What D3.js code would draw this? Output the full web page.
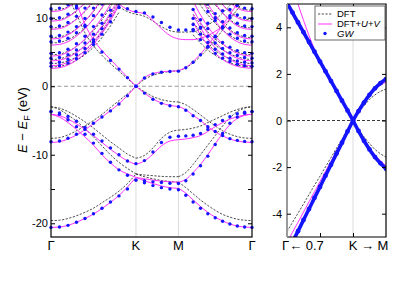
<!DOCTYPE html>
<html>
<head>
<meta charset="utf-8">
<script src="https://cdn.jsdelivr.net/npm/d3@7"></script>
<style>
  body { margin: 0; background: #fff; }
  text { font-family: "Liberation Sans", Arial, sans-serif; }
</style>
</head>
<body>
<script>
// ---- data: path Γ-K-M-Γ (ΓK = 1) ----
var kGrid = [0, 0.1, 0.2, 0.3, 0.4, 0.5, 0.6, 0.7, 0.8, 0.9, 1.0, 1.1, 1.2, 1.3, 1.4, 1.5,
             1.587, 1.673, 1.76, 1.846, 1.933, 2.02, 2.106, 2.193, 2.279, 2.366];
var kTicks = [0, 1.0, 1.5, 2.366];
var kLabels = ["Γ", "K", "M", "Γ"];

var gwSigma1  = [-20.6, -20.55, -20.3, -19.85, -19.3, -18.6, -17.8, -16.9, -16.0, -15.0, -13.7, -14.1, -14.5, -14.8, -15.0, -15.1, -15.9, -16.9, -17.8, -18.6, -19.2, -19.7, -20.1, -20.4, -20.55, -20.6];
var uvSigma1  = [-20.6, -20.55, -20.3, -19.85, -19.3, -18.65, -17.85, -16.95, -15.95, -14.7, -13.3, -13.8, -14.2, -14.55, -14.8, -14.9, -15.6, -16.6, -17.55, -18.4, -19.1, -19.65, -20.1, -20.4, -20.55, -20.6];
var dftSigma1 = [-19.6, -19.55, -19.3, -18.9, -18.4, -17.8, -17.0, -16.2, -15.3, -14.2, -12.8, -13.2, -13.5, -13.75, -13.9, -14.0, -14.8, -15.7, -16.6, -17.4, -18.1, -18.7, -19.1, -19.4, -19.55, -19.6];

var gwSigma2  = [-3.7, -4.1, -4.9, -5.9, -7.0, -8.3, -9.8, -11.1, -12.2, -13.0, -13.7, -13.8, -13.95, -14.05, -14.15, -14.2, -13.8, -12.8, -11.6, -10.2, -8.5, -6.9, -5.4, -4.5, -3.95, -3.7];
var uvSigma2  = [-4.1, -4.5, -5.3, -6.3, -7.4, -8.6, -10.0, -11.2, -12.2, -12.8, -13.3, -13.5, -13.7, -13.85, -13.95, -14.0, -13.6, -12.6, -11.4, -10.0, -8.4, -6.9, -5.6, -4.7, -4.25, -4.1];
var dftSigma2 = [-3.0, -3.4, -4.2, -5.1, -6.2, -7.4, -8.7, -10.0, -11.1, -12.0, -12.8, -12.95, -13.05, -13.15, -13.2, -13.2, -12.6, -11.4, -10.0, -8.6, -7.2, -5.8, -4.6, -3.7, -3.2, -3.0];

var gwSigma3  = [-3.7, -3.9, -4.4, -5.1, -6.0, -7.0, -8.0, -9.0, -10.0, -10.9, -11.3, -10.85, -9.6, -8.2, -7.45, -7.3, -7.25, -7.15, -6.9, -6.3, -5.6, -5.0, -4.45, -4.0, -3.8, -3.7];
var uvSigma3  = [-4.1, -4.3, -4.8, -5.5, -6.3, -7.2, -8.2, -9.2, -10.1, -10.9, -11.4, -10.9, -9.9, -8.7, -8.0, -7.8, -7.7, -7.5, -7.2, -6.6, -5.9, -5.3, -4.8, -4.45, -4.2, -4.1];
var dftSigma3 = [-3.0, -3.2, -3.7, -4.4, -5.2, -6.1, -7.1, -8.1, -9.0, -9.9, -10.5, -10.1, -9.0, -7.6, -6.7, -6.4, -6.3, -6.1, -5.8, -5.3, -4.8, -4.3, -3.8, -3.4, -3.1, -3.0];

var gwPi  = [-8.1, -8.0, -7.6, -7.0, -6.3, -5.4, -4.5, -3.6, -2.6, -1.4, 0, -1.0, -1.9, -2.5, -2.85, -3.0, -3.5, -4.3, -5.0, -5.9, -6.6, -7.2, -7.65, -7.9, -8.05, -8.1];
var uvPi  = [-8.2, -8.1, -7.7, -7.1, -6.35, -5.45, -4.5, -3.55, -2.55, -1.35, 0, -1.0, -1.85, -2.45, -2.8, -2.95, -3.45, -4.25, -5.0, -5.9, -6.65, -7.25, -7.7, -8.0, -8.15, -8.2];
var dftPi = [-7.6, -7.5, -7.1, -6.5, -5.8, -5.0, -4.1, -3.1, -2.1, -1.1, 0, -0.8, -1.5, -1.95, -2.2, -2.3, -2.7, -3.4, -4.2, -5.0, -5.8, -6.5, -7.0, -7.35, -7.55, -7.6];

var gwPiStar  = [14.5, 14.3, 13.5, 11.7, 8.7, 6.5, 5.0, 3.75, 2.5, 1.25, 0, 1.2, 1.8, 2.05, 2.15, 2.2, 2.7, 3.5, 4.6, 5.8, 7.2, 8.7, 10.3, 11.8, 13.2, 14.5];
var uvPiStar  = [14.8, 14.6, 13.8, 12.0, 9.0, 6.8, 5.2, 3.9, 2.6, 1.3, 0, 1.25, 1.85, 2.1, 2.2, 2.25, 2.75, 3.6, 4.7, 6.0, 7.4, 8.9, 10.5, 12.0, 13.5, 14.8];
var dftPiStar = [13.8, 13.6, 12.8, 10.5, 7.8, 5.9, 4.5, 3.3, 2.2, 1.1, 0, 1.0, 1.6, 1.95, 2.15, 2.25, 2.7, 3.4, 4.4, 5.5, 6.8, 8.2, 9.7, 11.2, 12.6, 13.8];

// upper band around K and M
var kUpper   = [0.7, 0.8, 0.9, 1.0, 1.1, 1.2, 1.3, 1.4, 1.5, 1.587, 1.673, 1.76, 1.846, 1.933, 2.02, 2.106];
var gwUpper  = [13.0, 12.0, 11.3, 10.9, 10.7, 10.1, 9.3, 8.6, 8.2, 8.2, 8.3, 8.6, 9.2, 10.0, 11.0, 12.2];
var uvUpper  = [13.2, 12.0, 11.2, 10.8, 10.6, 9.6, 8.4, 7.4, 6.9, 6.8, 6.8, 7.0, 7.4, 8.0, 8.8, 9.8];
var dftUpper = [12.6, 11.6, 10.9, 10.5, 10.2, 9.5, 8.7, 8.1, 7.9, 7.9, 8.0, 8.3, 8.9, 9.7, 10.7, 11.8];

// free-electron-like bands near Γ, Γ-K side
var kNearL = [0, 0.1, 0.2, 0.3, 0.4, 0.5, 0.6, 0.7, 0.8];
var gwNearL = [
  [2.9, 3.0, 3.4, 4.0, 4.9, 6.1, 7.6, 9.4, 11.5],
  [3.4, 3.5, 3.9, 4.6, 5.5, 6.8, 8.4, 10.3, 12.5],
  [4.1, 4.2, 4.6, 5.3, 6.3, 7.6, 9.2, 11.1, 13.3],
  [4.8, 4.9, 5.4, 6.2, 7.3, 8.7, 10.4, 12.4, 14.6],
  [6.5, 6.6, 7.0, 7.8, 8.9, 10.3, 12.0, 14.0, 16.2],
  [7.3, 7.4, 7.9, 8.7, 9.9, 11.4, 13.2, 15.2, 17.4],
  [8.7, 8.8, 9.3, 10.2, 11.4, 12.9, 14.7, 16.8, 19],
  [9.9, 10.0, 10.5, 11.4, 12.6, 14.1, 15.9, 18, 20],
  [11.3, 11.4, 11.9, 12.8, 14, 15.5, 17.3, 19.4, 21.6]
];
var uvNearL = [
  [2.6, 2.7, 3.1, 3.8, 4.8, 6.1, 7.7, 9.6, 11.8],
  [3.0, 3.1, 3.5, 4.2, 5.2, 6.5, 8.1, 10.0, 12.2],
  [3.7, 3.8, 4.2, 4.9, 5.9, 7.2, 8.8, 10.7, 12.9],
  [4.4, 4.5, 5.0, 5.8, 6.9, 8.3, 10.0, 12.0, 14.2],
  [6.0, 6.1, 6.5, 7.3, 8.4, 9.8, 11.5, 13.5, 15.7],
  [6.9, 7.0, 7.5, 8.3, 9.5, 11.0, 12.8, 14.8, 17],
  [8.3, 8.4, 8.9, 9.8, 11.0, 12.5, 14.3, 16.4, 18.6],
  [9.5, 9.6, 10.1, 11.0, 12.2, 13.7, 15.5, 17.6, 19.8],
  [10.9, 11.0, 11.5, 12.4, 13.6, 15.1, 16.9, 19, 21.2]
];
var dftNearL = [
  [2.8, 2.9, 3.2, 3.8, 4.6, 5.7, 7.1, 8.8, 10.8],
  [3.3, 3.4, 3.7, 4.3, 5.2, 6.4, 7.9, 9.7, 11.8],
  [3.9, 4.0, 4.4, 5.0, 5.9, 7.1, 8.6, 10.4, 12.5],
  [4.6, 4.7, 5.1, 5.8, 6.8, 8.1, 9.7, 11.6, 13.7],
  [6.3, 6.4, 6.8, 7.5, 8.5, 9.8, 11.4, 13.3, 15.4],
  [7.1, 7.2, 7.6, 8.4, 9.5, 10.9, 12.6, 14.5, 16.6],
  [8.5, 8.6, 9.0, 9.8, 10.9, 12.3, 14.0, 16.0, 18.1],
  [9.7, 9.8, 10.2, 11.0, 12.1, 13.5, 15.2, 17.2, 19.3],
  [11.1, 11.2, 11.6, 12.4, 13.5, 14.9, 16.6, 18.6, 20.7]
];

// free-electron-like bands near Γ, M-Γ side
var kNearR = [1.673, 1.76, 1.846, 1.933, 2.02, 2.106, 2.193, 2.279, 2.366];
var gwNearR = [
  [8.1, 6.8, 5.7, 4.8, 4.1, 3.6, 3.2, 3.0, 2.9],
  [9.0, 7.6, 6.4, 5.4, 4.7, 4.1, 3.7, 3.5, 3.4],
  [9.9, 8.5, 7.3, 6.3, 5.5, 4.9, 4.5, 4.2, 4.1],
  [11.2, 9.7, 8.4, 7.3, 6.4, 5.7, 5.2, 4.9, 4.8],
  [14, 12.4, 10.9, 9.6, 8.5, 7.6, 7.0, 6.6, 6.5],
  [15.4, 13.6, 12.0, 10.6, 9.4, 8.5, 7.8, 7.4, 7.3],
  [17.5, 15.6, 13.9, 12.3, 11.0, 10.0, 9.2, 8.8, 8.7],
  [19, 17, 15.2, 13.6, 12.3, 11.2, 10.4, 10.0, 9.9],
  [20.4, 18.4, 16.6, 15.0, 13.7, 12.6, 11.8, 11.4, 11.3]
];
var uvNearR = [
  [9.3, 7.5, 6.0, 4.8, 3.9, 3.3, 2.9, 2.7, 2.6],
  [10.4, 8.5, 6.9, 5.6, 4.6, 3.9, 3.4, 3.1, 3.0],
  [11.2, 9.3, 7.7, 6.4, 5.4, 4.6, 4.1, 3.8, 3.7],
  [12.4, 10.4, 8.7, 7.3, 6.2, 5.4, 4.8, 4.5, 4.4],
  [15.2, 13, 11.1, 9.5, 8.2, 7.2, 6.5, 6.1, 6.0],
  [16.1, 13.9, 12.0, 10.4, 9.1, 8.1, 7.4, 7.0, 6.9],
  [18, 15.8, 13.8, 12.1, 10.7, 9.6, 8.8, 8.4, 8.3],
  [19.2, 17, 15.0, 13.3, 11.9, 10.8, 10.0, 9.6, 9.5],
  [20.6, 18.4, 16.4, 14.7, 13.3, 12.2, 11.4, 11.0, 10.9]
];
var dftNearR = [
  [7.5, 6.3, 5.3, 4.5, 3.9, 3.4, 3.1, 2.9, 2.8],
  [8.5, 7.2, 6.1, 5.2, 4.5, 4.0, 3.6, 3.4, 3.3],
  [9.3, 8.0, 6.9, 6.0, 5.3, 4.7, 4.3, 4.0, 3.9],
  [10.5, 9.1, 7.9, 6.9, 6.1, 5.5, 5.0, 4.7, 4.6],
  [13.4, 11.8, 10.4, 9.2, 8.2, 7.4, 6.8, 6.4, 6.3],
  [14.7, 13, 11.5, 10.2, 9.1, 8.2, 7.6, 7.2, 7.1],
  [16.8, 15, 13.4, 11.9, 10.7, 9.7, 9.0, 8.6, 8.5],
  [18.3, 16.4, 14.7, 13.2, 11.9, 10.9, 10.2, 9.8, 9.7],
  [19.9, 18, 16.2, 14.7, 13.4, 12.3, 11.6, 11.2, 11.1]
];

// ---- data: zoom around K ----
var kZoom = [0.7, 0.725, 0.75, 0.775, 0.8, 0.825, 0.85, 0.875, 0.9, 0.925, 0.95, 0.975, 1.0,
             1.025, 1.05, 1.075, 1.1, 1.125, 1.15];
var gwZoomCond  = [5.05, 4.63, 4.21, 3.79, 3.37, 2.95, 2.53, 2.11, 1.69, 1.27, 0.85, 0.43, 0, 0.4, 0.77, 1.1, 1.38, 1.6, 1.78];
var uvZoomCond  = [6.5, 5.75, 5.0, 4.3, 3.65, 3.05, 2.56, 2.12, 1.7, 1.28, 0.86, 0.43, 0, 0.4, 0.75, 1.06, 1.32, 1.52, 1.64];
var dftZoomCond = [4.95, 4.52, 4.1, 3.68, 3.26, 2.85, 2.44, 2.03, 1.62, 1.21, 0.8, 0.4, 0, 0.33, 0.63, 0.9, 1.1, 1.25, 1.35];
var gwZoomVal   = [-5.7, -5.22, -4.75, -4.27, -3.8, -3.32, -2.85, -2.37, -1.9, -1.42, -0.95, -0.47, 0, -0.45, -0.87, -1.24, -1.57, -1.84, -2.07];
var uvZoomVal   = [-5.24, -4.8, -4.37, -3.93, -3.49, -3.06, -2.62, -2.18, -1.75, -1.31, -0.87, -0.44, 0, -0.43, -0.82, -1.17, -1.48, -1.73, -1.95];
var dftZoomVal  = [-4.77, -4.37, -3.98, -3.58, -3.18, -2.78, -2.39, -1.99, -1.59, -1.19, -0.8, -0.4, 0, -0.37, -0.7, -0.99, -1.24, -1.43, -1.57];

var legendNames = ["DFT", "DFT+U+V", "GW"];

// ---- colours ----
var cDFT = "#111", cUV = "#ff33ff", cGW = "#1414ff";

var svg = d3.select("body").append("svg")
    .attr("width", 397)
    .attr("height", 289);

// ======== left panel ========
var x = d3.scaleLinear().domain([0, 2.366]).range([51, 252]);
var y = d3.scaleLinear().domain([-22, 12]).range([237, 4]);

var mainBands = [
  {k: kGrid, dft: dftSigma1, uv: uvSigma1, gw: gwSigma1},
  {k: kGrid, dft: dftSigma2, uv: uvSigma2, gw: gwSigma2},
  {k: kGrid, dft: dftSigma3, uv: uvSigma3, gw: gwSigma3},
  {k: kGrid, dft: dftPi, uv: uvPi, gw: gwPi},
  {k: kGrid, dft: dftPiStar, uv: uvPiStar, gw: gwPiStar},
  {k: kUpper, dft: dftUpper, uv: uvUpper, gw: gwUpper}
];
gwNearL.forEach(function(g, i) { mainBands.push({k: kNearL, dft: dftNearL[i], uv: uvNearL[i], gw: g}); });
gwNearR.forEach(function(g, i) { mainBands.push({k: kNearR, dft: dftNearR[i], uv: uvNearR[i], gw: g}); });

svg.append("clipPath").attr("id", "clipL")
  .append("rect").attr("x", 51).attr("y", 4).attr("width", 201).attr("height", 233);
svg.append("clipPath").attr("id", "clipLdots")
  .append("rect").attr("x", 48).attr("y", 4).attr("width", 207).attr("height", 233);

var left = svg.append("g");

// high-symmetry lines
left.selectAll(".vline").data([1.0, 1.5]).enter().append("line")
    .attr("x1", function(d) { return x(d); }).attr("x2", function(d) { return x(d); })
    .attr("y1", 4).attr("y2", 237)
    .attr("stroke", "#dcdcdc").attr("stroke-width", 1);

left.append("line")
    .attr("x1", 51).attr("x2", 252).attr("y1", y(0)).attr("y2", y(0))
    .attr("stroke", "#999").attr("stroke-width", 1.2).attr("stroke-dasharray", "4,2.5");

// split a band at the high-symmetry points so the kinks stay sharp
function pieces(ks, es, breaks) {
  var out = [], cur = [];
  ks.forEach(function(k, i) {
    cur.push([k, es[i]]);
    if (breaks.indexOf(k) >= 0 && cur.length > 1) { out.push(cur); cur = [[k, es[i]]]; }
  });
  if (cur.length > 1) out.push(cur);
  return out;
}

function drawBands(g, bands, xs, ys, breaks, clipLines, clipDots, gwStyle) {
  var line = d3.line()
      .x(function(d) { return xs(d[0]); })
      .y(function(d) { return ys(d[1]); })
      .curve(d3.curveMonotoneX);

  var gl = g.append("g").attr("clip-path", "url(#" + clipLines + ")");
  bands.forEach(function(b) {
    pieces(b.k, b.dft, breaks).forEach(function(p) {
      gl.append("path").attr("d", line(p)).attr("fill", "none")
        .attr("stroke", cDFT).attr("stroke-width", 0.75).attr("stroke-dasharray", "2.2,1.5");
    });
  });
  bands.forEach(function(b) {
    pieces(b.k, b.uv, breaks).forEach(function(p) {
      gl.append("path").attr("d", line(p)).attr("fill", "none")
        .attr("stroke", cUV).attr("stroke-width", 1);
    });
  });
  if (gwStyle.line) {
    bands.forEach(function(b) {
      pieces(b.k, b.gw, breaks).forEach(function(p) {
        gl.append("path").attr("d", line(p)).attr("fill", "none")
          .attr("stroke", cGW).attr("stroke-width", gwStyle.line);
      });
    });
  }
  var gd = g.append("g").attr("clip-path", "url(#" + clipDots + ")");
  bands.forEach(function(b) {
    gd.selectAll(null).data(b.k.map(function(k, i) { return [k, b.gw[i]]; }))
      .enter().append("circle")
      .attr("cx", function(d) { return xs(d[0]); })
      .attr("cy", function(d) { return ys(d[1]); })
      .attr("r", gwStyle.r)
      .attr("fill", cGW);
  });
}

drawBands(left, mainBands, x, y, [1.0, 1.5], "clipL", "clipLdots", {r: 1.7});

left.append("rect").attr("x", 51).attr("y", 4).attr("width", 201).attr("height", 233)
    .attr("fill", "none").attr("stroke", "#000").attr("stroke-width", 1.2);

var yAxisL = left.append("g").attr("transform", "translate(51,0)")
    .call(d3.axisLeft(y).tickValues(d3.range(-20, 11, 5)).tickSize(-4).tickPadding(3)
      .tickFormat(function(d) { return d % 10 === 0 ? String(d) : ""; }));
var yAxisR = left.append("g").attr("transform", "translate(252,0)")
    .call(d3.axisRight(y).tickValues(d3.range(-20, 11, 5)).tickSize(-4).tickFormat(""));
[yAxisL, yAxisR].forEach(function(a) {
  a.select(".domain").remove();
  a.attr("font-size", 11).attr("font-family", "Liberation Sans, Arial, sans-serif");
  a.selectAll("line").attr("stroke", "#000");
  a.selectAll("text").attr("fill", "#000");
});

left.selectAll(".klab").data(kTicks).enter().append("text")
    .attr("x", function(d) { return x(d); })
    .attr("y", 250)
    .attr("text-anchor", "middle")
    .attr("font-size", 13)
    .text(function(d, i) { return kLabels[i]; });

var ylab = left.append("text")
    .attr("transform", "translate(27,120) rotate(-90)")
    .attr("text-anchor", "middle")
    .attr("font-size", 13);
ylab.append("tspan").attr("font-style", "italic").text("E");
ylab.append("tspan").text(" − ");
ylab.append("tspan").attr("font-style", "italic").text("E");
ylab.append("tspan").attr("font-size", 9).attr("dy", 3).text("F");
ylab.append("tspan").attr("dy", -3).text(" (eV)");

// ======== right panel (zoom at K) ========
var xz = d3.scaleLinear().domain([0.7, 1.15]).range([287, 386]);
var yz = d3.scaleLinear().domain([-5, 5]).range([237, 4]);

svg.append("clipPath").attr("id", "clipR")
  .append("rect").attr("x", 287).attr("y", 4).attr("width", 99).attr("height", 233);

var right = svg.append("g");

right.append("line")
    .attr("x1", xz(1.0)).attr("x2", xz(1.0)).attr("y1", 4).attr("y2", 237)
    .attr("stroke", "#dcdcdc").attr("stroke-width", 1);
right.append("line")
    .attr("x1", 287).attr("x2", 386).attr("y1", yz(0)).attr("y2", yz(0))
    .attr("stroke", "#222").attr("stroke-width", 0.9).attr("stroke-dasharray", "3,2");

var zoomBands = [
  {k: kZoom, dft: dftZoomCond, uv: uvZoomCond, gw: gwZoomCond},
  {k: kZoom, dft: dftZoomVal, uv: uvZoomVal, gw: gwZoomVal}
];
drawBands(right, zoomBands, xz, yz, [1.0], "clipR", "clipR", {r: 2.4, line: 3.6});

// frame: grey left edge, black elsewhere
right.append("path")
    .attr("d", "M287,4H386V237H287")
    .attr("fill", "none").attr("stroke", "#000").attr("stroke-width", 1.2);
right.append("line").attr("x1", 287).attr("x2", 287).attr("y1", 4).attr("y2", 237)
    .attr("stroke", "#9a9a9a").attr("stroke-width", 2);

var zAxisL = right.append("g").attr("transform", "translate(287,0)")
    .call(d3.axisLeft(yz).tickValues([-4, -2, 0, 2, 4]).tickSize(-4).tickPadding(5)
      .tickFormat(function(d) { return String(d); }));
var zAxisR = right.append("g").attr("transform", "translate(386,0)")
    .call(d3.axisRight(yz).tickValues([-4, -2, 0, 2, 4]).tickSize(-4).tickFormat(""));
var zAxisB = right.append("g").attr("transform", "translate(0,237)")
    .call(d3.axisBottom(xz).tickValues([0.85, 1.0]).tickSize(-4).tickFormat(""));
var zAxisT = right.append("g").attr("transform", "translate(0,4)")
    .call(d3.axisTop(xz).tickValues([0.85, 1.0]).tickSize(-4).tickFormat(""));
[zAxisL, zAxisR, zAxisB, zAxisT].forEach(function(a) {
  a.select(".domain").remove();
  a.attr("font-size", 11).attr("font-family", "Liberation Sans, Arial, sans-serif");
  a.selectAll("line").attr("stroke", "#000");
  a.selectAll("text").attr("fill", "#000");
});

right.append("text").attr("x", xz(0.7) - 5).attr("y", 250).attr("font-size", 13).text("Γ← 0.7");
right.append("text").attr("x", xz(1.0)).attr("y", 250).attr("text-anchor", "middle")
    .attr("font-size", 13).text("K");
right.append("text").attr("x", xz(1.0) + 8).attr("y", 250).attr("font-size", 13).text("→ M");

// legend
var lg = right.append("g").attr("transform", "translate(315,6)");
lg.append("rect").attr("width", 70).attr("height", 34)
    .attr("fill", "#fff").attr("stroke", "#444").attr("stroke-width", 0.8);
var rowY = [8, 18, 27.5];
lg.append("line").attr("x1", 3).attr("x2", 17).attr("y1", rowY[0]).attr("y2", rowY[0])
    .attr("stroke", cDFT).attr("stroke-width", 0.75).attr("stroke-dasharray", "2.2,1.5");
lg.append("line").attr("x1", 3).attr("x2", 17).attr("y1", rowY[1]).attr("y2", rowY[1])
    .attr("stroke", cUV).attr("stroke-width", 1);
lg.append("circle").attr("cx", 10).attr("cy", rowY[2]).attr("r", 1.7).attr("fill", cGW);

var t0 = lg.append("text").attr("x", 22).attr("y", rowY[0] + 3.3).attr("font-size", 9.5).text(legendNames[0]);
var t1 = lg.append("text").attr("x", 22).attr("y", rowY[1] + 3.3).attr("font-size", 9.5);
t1.append("tspan").text("DFT+");
t1.append("tspan").attr("font-style", "italic").text("U");
t1.append("tspan").text("+");
t1.append("tspan").attr("font-style", "italic").text("V");
lg.append("text").attr("x", 22).attr("y", rowY[2] + 3.3).attr("font-size", 9.5)
    .attr("font-style", "italic").text(legendNames[2]);
</script>
</body>
</html>
